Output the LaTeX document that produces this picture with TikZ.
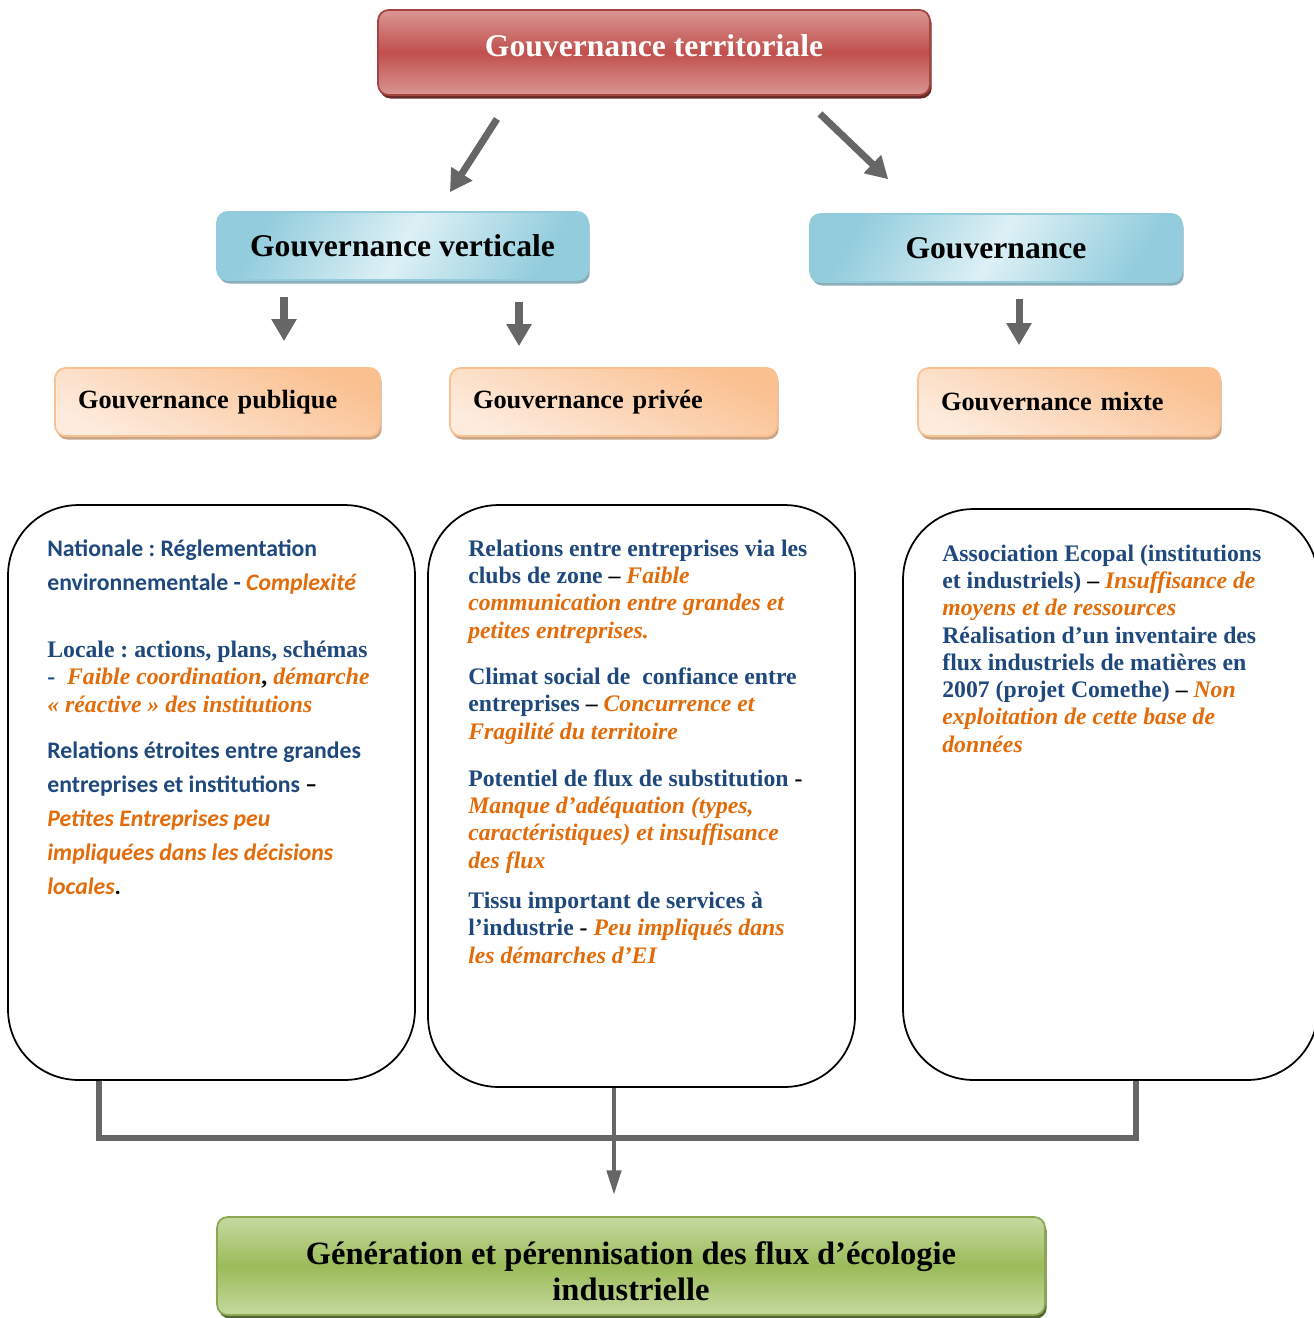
\documentclass[tikz,border=0pt]{standalone}
\usepackage{fontspec}
\setmainfont{Liberation Serif}
\newfontfamily\calibfont{Carlito}
\usetikzlibrary{arrows.meta,shadows}
\frenchspacing
\definecolor{terrred}{HTML}{C0504D}
\definecolor{terrredlt}{HTML}{DA9694}
\definecolor{vertblue}{HTML}{93CDDD}
\definecolor{vertbluelt}{HTML}{DDF0F5}
\definecolor{subpeach}{HTML}{FAC090}
\definecolor{subpeachlt}{HTML}{FDEBDD}
\definecolor{fluxgreen}{HTML}{9BBB59}
\definecolor{fluxgreenlt}{HTML}{C6D9A0}
\definecolor{arrowgray}{HTML}{666666}
\definecolor{txtblue}{HTML}{1F497D}
\definecolor{txtorange}{HTML}{E36C0A}
\newcommand{\weak}[1]{{\color{txtorange}\itshape #1}}
\newcommand{\blk}[1]{{\color{black}#1}}

\tikzset{
  headbox/.style={rounded corners=6pt, inner sep=0pt, line width=1pt},
  terrbox/.style={headbox, draw=terrred!85!black, top color=terrredlt,
    bottom color=terrredlt, middle color=terrred, text=white, text depth=8pt,
    drop shadow={shadow xshift=1pt, shadow yshift=-2pt, fill=terrred!55!black, opacity=1},
    font=\bfseries\fontsize{18}{21}\selectfont},
  vertbox/.style={headbox, draw=vertblue, left color=vertblue,
    right color=vertblue, middle color=vertbluelt, shading angle=60,
    drop shadow={shadow xshift=1pt, shadow yshift=-2pt, fill=vertblue!60!gray, opacity=1},
    font=\bfseries\fontsize{18}{21}\selectfont},
  subbox/.style={headbox, draw=subpeach, top color=subpeach,
    bottom color=subpeachlt, shading angle=-25, align=left, inner xsep=0.46cm,
    drop shadow={shadow xshift=1pt, shadow yshift=-2pt, fill=subpeach!60!gray, opacity=1},
    font=\bfseries\fontsize{15}{18}\selectfont},
  fluxbox/.style={headbox, draw=fluxgreen!90!black, top color=fluxgreenlt,
    bottom color=fluxgreenlt, middle color=fluxgreen, align=center,
    drop shadow={shadow xshift=1pt, shadow yshift=-2pt, fill=fluxgreen!55!black, opacity=1},
    font=\bfseries\fontsize{18.5}{20}\selectfont},
  roundbox/.style={draw, line width=1pt, rounded corners=40pt, fill=white},
  bodytxt/.style={anchor=base west, align=left, inner sep=0pt, text=txtblue,
    font=\bfseries\fontsize{13.5}{15.5}\selectfont},
  calibtxt/.style={bodytxt, font=\calibfont\bfseries\fontsize{13.5}{19.3}\selectfont},
  bigarrow/.style={draw=arrowgray, line width=4pt,
    -{Triangle[length=12.5pt,width=13.6pt]}},
  conn/.style={draw=arrowgray, line width=3.5pt},
}

\begin{document}
\begin{tikzpicture}[x=0.02cm, y=-0.02cm]
  \clip (0,0) rectangle (1314,1318);
  % top level
  \node[terrbox, minimum width=11.04cm, minimum height=1.7cm]
    (terr) at (654,52.5) {Gouvernance territoriale};
  \node[vertbox, minimum width=7.42cm, minimum height=1.36cm]
    (vert) at (402.5,246) {Gouvernance verticale};
  \node[vertbox, minimum width=7.44cm, minimum height=1.36cm]
    (horiz) at (996,248) {Gouvernance};
  % sub kinds
  \node[subbox, text width=5.58cm, minimum height=1.36cm]
    (pub) at (217.5,402) {Gouvernance publique};
  \node[subbox, text width=5.62cm, minimum height=1.36cm]
    (priv) at (613.5,402) {Gouvernance privée};
  \node[subbox, text width=5.12cm, minimum height=1.36cm]
    (mixte) at (1069,402) {Gouvernance mixte};
  % content boxes
  \node[roundbox, minimum width=8.14cm, minimum height=11.5cm] (pubbox) at (211.5,792.5) {};
  \node[roundbox, minimum width=8.54cm, minimum height=11.64cm] (privbox) at (641.5,796) {};
  \node[roundbox, minimum width=8.3cm, minimum height=11.42cm] (mixbox) at (1110.5,794.5) {};
  \node[fluxbox, minimum width=16.56cm, minimum height=1.96cm]
    (flux) at (631,1266) {\rule{0pt}{19pt}Génération et pérennisation des flux d’écologie\\industrielle};

  % public (anchored on the last line)
  \node[calibtxt] (nat) at (47,590)
    {Nationale : Réglementation\\environnementale - \weak{Complexité}};
  \node[bodytxt] (loc) at (47,712)
    {Locale : actions, plans, schémas\\-\ \ \weak{Faible coordination}\blk{,} \weak{démarche}\\\weak{« réactive » des institutions}};
  \node[calibtxt] (rel) at (47,894)
    {Relations étroites entre grandes\\entreprises et institutions \blk{–}\\\weak{Petites Entreprises peu}\\\weak{impliquées dans les décisions}\\\weak{locales}\blk{.}};
  % private
  \node[bodytxt] (clubs) at (468,638)
    {Relations entre entreprises via les\\clubs de zone \blk{–} \weak{Faible}\\\weak{communication entre grandes et}\\\weak{petites entreprises.}};
  \node[bodytxt] (climat) at (468,739)
    {Climat social de\ \ confiance entre\\entreprises \blk{–} \weak{Concurrence et}\\\weak{Fragilité du territoire}};
  \node[bodytxt] (subst) at (468,868)
    {Potentiel de flux de substitution \blk{-}\\\weak{Manque d’adéquation (types,}\\\weak{caractéristiques) et insuffisance}\\\weak{des flux}};
  \node[bodytxt] (tissu) at (468,963)
    {Tissu important de services à\\l’industrie \blk{-} \weak{Peu impliqués dans}\\\weak{les démarches d’EI}};
  % mixed
  \node[bodytxt] (ecopal) at (942,752)
    {Association Ecopal (institutions\\et industriels) \blk{–} \weak{Insuffisance de}\\\weak{moyens et de ressources}\\Réalisation d’un inventaire des\\flux industriels de matières en\\2007 (projet Comethe) \blk{–} \weak{Non}\\\weak{exploitation de cette base de}\\\weak{données}};

  % arrows
  \coordinate (d1) at (511.8,0);
  \coordinate (d2) at (437.8,0);
  \coordinate (d3) at (801.2,0);
  \coordinate (d4) at (923.6,0);
  \coordinate (xa) at (284,0);
  \coordinate (xb) at (519,0);
  \coordinate (xc) at (1019,0);
  \draw[bigarrow, shorten <=0.55cm, shorten >=0.45cm] (terr.south -| d1) -- (vert.north -| d2);
  \draw[bigarrow, shorten <=0.52cm, shorten >=0.98cm] (terr.south -| d3) -- (horiz.north -| d4);
  \draw[bigarrow, shorten <=0.32cm, shorten >=0.52cm] (vert.south -| xa) -- (pub.north -| xa);
  \draw[bigarrow, shorten <=0.42cm, shorten >=0.42cm] (vert.south -| xb) -- (priv.north -| xb);
  \draw[bigarrow, shorten <=0.32cm, shorten >=0.44cm] (horiz.south -| xc) -- (mixte.north -| xc);

  % joining the three boxes
  \coordinate (ja) at (99,1138);
  \coordinate (jc) at (1136,1138);
  \coordinate (jb) at (614,1195);
  \draw[conn] (pubbox.south -| ja) |- (jc) -- (mixbox.south -| jc);
  \draw[draw=arrowgray, line width=2.4pt, -{Triangle[length=14pt,width=8pt]}]
    (privbox.south -| jb) -- (jb);
\end{tikzpicture}
\end{document}
